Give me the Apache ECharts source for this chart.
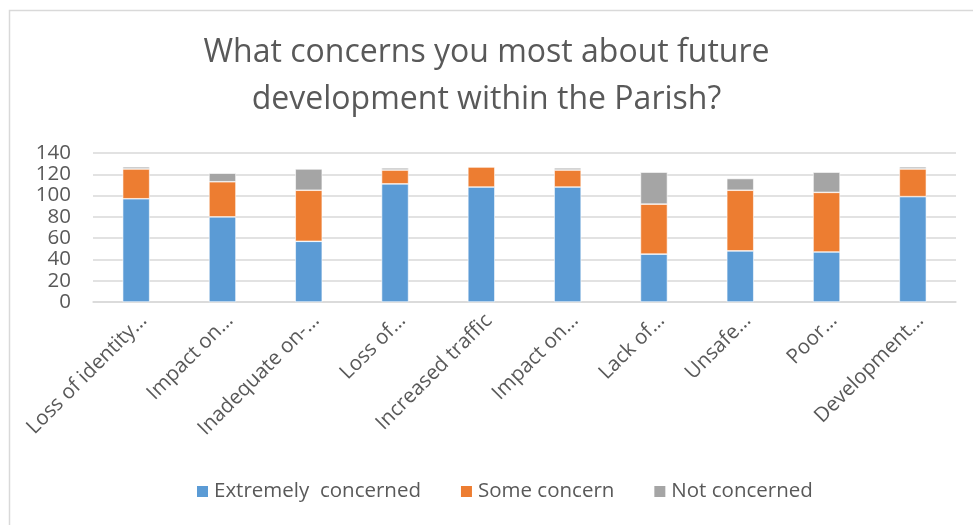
<!DOCTYPE html>
<html>
<head>
<meta charset="utf-8">
<script src="https://cdn.jsdelivr.net/npm/echarts@6/dist/echarts.min.js"></script>
<style>
  html, body { margin: 0; padding: 0; background: #fff; }
  #chart { width: 973px; height: 525px; }
</style>
</head>
<body>
<div id="chart"></div>
<script>
// Survey responses per concern (stacked counts)
const categories = [
  'Loss of identity…', 'Impact on…', 'Inadequate on-…', 'Loss of…', 'Increased traffic',
  'Impact on…', 'Lack of…', 'Unsafe…', 'Poor…', 'Development…'
];
const extremelyConcerned = [97, 80, 57, 111, 108, 108, 45, 48, 47, 99];
const someConcern        = [28, 33, 48, 13, 19, 16, 47, 57, 56, 26];
const notConcerned       = [2, 8, 20, 2, 0, 2, 30, 11, 19, 2];
const yTicks = [0, 20, 40, 60, 80, 100, 120, 140];

const FONT = '"Open Sans", "Noto Sans", sans-serif';
const TEXT = '#595959';

const chart = echarts.init(document.getElementById('chart'), null, { renderer: 'canvas' });

const makeSeries = (name, data, color) => ({
  name, type: 'bar', stack: 'total', data,
  barWidth: 27,
  itemStyle: { color, borderColor: '#ffffff', borderWidth: 0.6 },
  emphasis: { disabled: true }
});

chart.setOption({
  animation: false,
  backgroundColor: '#ffffff',
  graphic: [{
    type: 'rect', left: 7, top: 8,
    shape: { width: 1200, height: 1200 },
    style: { fill: 'none', stroke: '#d9d9d9', lineWidth: 1.5 },
    silent: true
  }],
  title: {
    text: 'What concerns you most about future\ndevelopment within the Parish?',
    left: 'center', top: 24,
    textStyle: { fontFamily: FONT, fontWeight: 'normal', fontSize: 32, color: TEXT, lineHeight: 47 }
  },
  legend: {
    top: 476, left: 190,
    itemWidth: 13, itemHeight: 13, itemGap: 38,
    icon: 'rect',
    textStyle: { fontFamily: FONT, fontSize: 20.5, color: TEXT },
    data: ['Extremely  concerned', 'Some concern', 'Not concerned']
  },
  grid: { left: 93, right: 17, top: 153, bottom: 223, containLabel: false },
  xAxis: {
    type: 'category',
    data: categories,
    axisLine: { lineStyle: { color: '#d9d9d9', width: 1.5 } },
    axisTick: { show: false },
    axisLabel: {
      rotate: 45, interval: 0, verticalAlign: 'top',
      fontFamily: FONT, fontSize: 20.5, color: TEXT, margin: 8
    }
  },
  yAxis: {
    type: 'value', min: yTicks[0], max: yTicks[yTicks.length - 1], interval: yTicks[1] - yTicks[0],
    axisLine: { show: false },
    axisTick: { show: false },
    splitLine: { lineStyle: { color: '#d9d9d9', width: 1.5 } },
    axisLabel: { fontFamily: FONT, fontSize: 20.5, color: TEXT, margin: 22 }
  },
  series: [
    makeSeries('Extremely  concerned', extremelyConcerned, '#5b9bd5'),
    makeSeries('Some concern', someConcern, '#ed7d31'),
    makeSeries('Not concerned', notConcerned, '#a5a5a5')
  ]
});
</script>
</body>
</html>
